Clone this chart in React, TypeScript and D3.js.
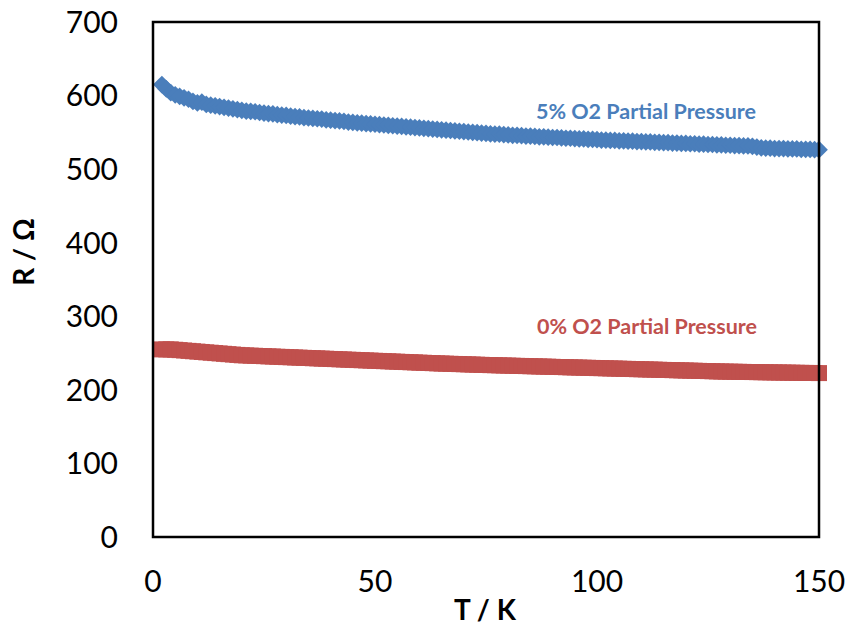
import React from "react";
import * as d3 from "d3";

// Temperature readings (K)
const temps: number[] = [
  2, 3, 4, 5, 6, 7, 8, 9, 10, 11, 12, 13, 14, 15, 16, 17, 18, 19, 20,
  21, 22, 23, 24, 25, 26, 27, 28, 29, 30, 31, 32, 33, 34, 35, 36, 37, 38, 39, 40,
  41, 42, 43, 44, 45, 46, 47, 48, 49, 50, 51, 52, 53, 54, 55, 56, 57, 58, 59, 60,
  61, 62, 63, 64, 65, 66, 67, 68, 69, 70, 71, 72, 73, 74, 75, 76, 77, 78, 79, 80,
  81, 82, 83, 84, 85, 86, 87, 88, 89, 90, 91, 92, 93, 94, 95, 96, 97, 98, 99, 100,
  101, 102, 103, 104, 105, 106, 107, 108, 109, 110, 111, 112, 113, 114, 115, 116, 117, 118, 119, 120,
  121, 122, 123, 124, 125, 126, 127, 128, 129, 130, 131, 132, 133, 134, 135, 136, 137, 138, 139, 140,
  141, 142, 143, 144, 145, 146, 147, 148, 149, 150,
];

// Resistance (Ω) with 5% O2 partial pressure
const resistance5: number[] = [
  615, 609, 604, 601, 599, 597, 595, 592, 590, 591, 588, 587, 586, 585, 584, 583, 582, 581, 580,
  579, 578.5, 578, 577, 576, 575.5, 575, 574, 573.5, 573, 572, 571.5, 571, 570, 569.5, 569, 568.5, 568, 567, 566.5,
  566, 565.5, 565, 564, 563.5, 563, 562.5, 562, 561.5, 561, 560.5, 560, 559.5, 559, 558.5, 558, 557.5, 557, 556.5, 556,
  555.5, 555, 554.5, 554, 553.5, 553, 552.5, 552, 551.5, 551, 550.5, 550, 549.5, 549, 548.5, 548, 547.5, 547.5, 547, 546.5,
  546, 546, 545.5, 545, 545, 544.5, 544, 544, 543.5, 543, 543, 542.5, 542, 542, 541.5, 541, 541, 540.5, 540.5, 540,
  539.5, 539.5, 539, 539, 538.5, 538.5, 538, 538, 537.5, 537.5, 537, 537, 536.5, 536.5, 536, 536, 535.5, 535.5, 535, 535,
  534.5, 534.5, 534, 534, 533.5, 533.5, 533, 533, 532.5, 532.5, 532, 532, 531.5, 531.5, 531, 530, 529, 528.5, 528.5, 528,
  528, 528, 527.5, 527.5, 527.5, 527, 527, 527, 526.5, 526.5,
];

// Resistance (Ω) with 0% O2 partial pressure
const resistance0: number[] = [
  255, 255, 255, 254.5, 254, 253.5, 253, 252.5, 252, 251.5, 251, 250.5, 250, 249.5, 249, 248.5, 248, 247.5, 247,
  246.8, 246.5, 246.3, 246, 245.8, 245.5, 245.3, 245, 244.8, 244.5, 244.3, 244, 243.8, 243.5, 243.3, 243, 242.8, 242.5, 242.3, 242,
  241.8, 241.5, 241.3, 241, 240.8, 240.5, 240.3, 240, 239.8, 239.5, 239.3, 239, 238.8, 238.5, 238.3, 238, 237.8, 237.5, 237.3, 237,
  236.8, 236.5, 236.3, 236, 235.8, 235.6, 235.4, 235.2, 235, 234.8, 234.6, 234.4, 234.2, 234, 233.8, 233.6, 233.5, 233.3, 233.1, 233,
  232.8, 232.6, 232.5, 232.3, 232.1, 232, 231.8, 231.6, 231.5, 231.3, 231.1, 231, 230.8, 230.6, 230.5, 230.3, 230.1, 230, 229.8, 229.6,
  229.5, 229.3, 229.1, 229, 228.8, 228.6, 228.5, 228.3, 228.1, 228, 227.8, 227.6, 227.5, 227.3, 227.1, 227, 226.8, 226.6, 226.5, 226.3,
  226.1, 226, 225.8, 225.6, 225.5, 225.3, 225.1, 225, 224.8, 224.7, 224.6, 224.5, 224.4, 224.3, 224.2, 224.1, 224, 223.9, 223.8, 223.7,
  223.6, 223.5, 223.4, 223.3, 223.2, 223.1, 223, 223, 222.9, 222.8,
];

const xTicks: number[] = [0, 50, 100, 150];
const yTicks: number[] = [0, 100, 200, 300, 400, 500, 600, 700];

const seriesLabels = ["5% O2 Partial Pressure", "0% O2 Partial Pressure"];

const W = 845;
const H = 625;
const plot = { left: 153, right: 819, top: 22, bottom: 537 };

const BLUE = "#4A7EBB";
const RED = "#C0504D";
const FONT = "Lato, 'Open Sans', sans-serif";

export default function App() {
  const x = d3.scaleLinear().domain([0, 150]).range([plot.left, plot.right]);
  const y = d3.scaleLinear().domain([0, 700]).range([plot.bottom, plot.top]);

  const diamond = d3.symbol().type(d3.symbolDiamond2).size(200)();
  const square = d3.symbol().type(d3.symbolSquare).size(256)();

  return (
    <svg
      width={W}
      height={H}
      style={{ position: "absolute", left: 0, top: 0, background: "#fff" }}
    >
      <rect x={0} y={0} width={W} height={H} fill="#fff" />

      {/* red series: square markers */}
      <g fill={RED}>
        {temps.map((t, i) => (
          <path
            key={"r" + i}
            d={square!}
            transform={`translate(${x(t)},${y(resistance0[i])})`}
          />
        ))}
      </g>

      {/* blue series: diamond markers */}
      <g fill={BLUE}>
        {temps.map((t, i) => (
          <path
            key={"b" + i}
            d={diamond!}
            transform={`translate(${x(t)},${y(resistance5[i])})`}
          />
        ))}
      </g>

      {/* plot frame */}
      <rect
        x={plot.left}
        y={plot.top}
        width={plot.right - plot.left}
        height={plot.bottom - plot.top}
        fill="none"
        stroke="#000"
        strokeWidth={2.5}
      />

      {/* y tick labels */}
      {yTicks.map((v) => (
        <text
          key={"y" + v}
          x={118}
          y={y(v)}
          dy="0.36em"
          textAnchor="end"
          fontFamily={FONT}
          fontSize={30}
          fill="#000"
        >
          {v}
        </text>
      ))}

      {/* x tick labels */}
      {xTicks.map((v) => (
        <text
          key={"x" + v}
          x={x(v)}
          y={592}
          textAnchor="middle"
          fontFamily={FONT}
          fontSize={30}
          fill="#000"
        >
          {v}
        </text>
      ))}

      {/* axis titles */}
      <text
        x={485}
        y={620}
        textAnchor="middle"
        fontFamily={FONT}
        fontWeight="bold"
        fontSize={28}
        fill="#000"
      >
        T / K
      </text>
      <text
        transform="translate(34,252) rotate(-90)"
        textAnchor="middle"
        fontFamily={FONT}
        fontWeight="bold"
        fontSize={28}
        fill="#000"
      >
        R / Ω
      </text>

      {/* series labels */}
      <text
        x={646}
        y={119}
        textAnchor="middle"
        fontFamily={FONT}
        fontWeight="bold"
        fontSize={21.5}
        fill={BLUE}
      >
        {seriesLabels[0]}
      </text>
      <text
        x={647}
        y={334}
        textAnchor="middle"
        fontFamily={FONT}
        fontWeight="bold"
        fontSize={21.5}
        fill={RED}
      >
        {seriesLabels[1]}
      </text>
    </svg>
  );
}
